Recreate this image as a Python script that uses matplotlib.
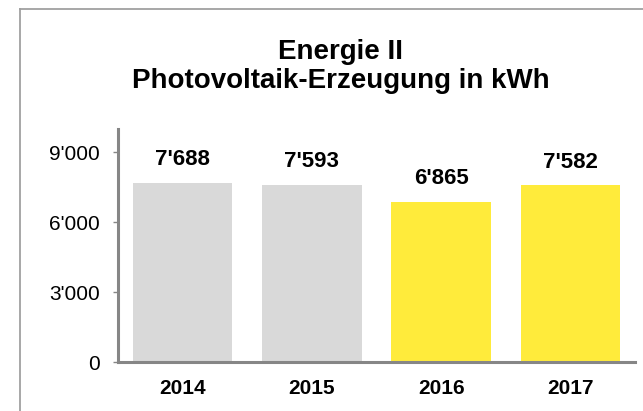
import matplotlib.pyplot as plt
from matplotlib.lines import Line2D

# 데이터
jahre = ["2014", "2015", "2016", "2017"]
erzeugung = [7688, 7593, 6865, 7582]
farben = ["#D9D9D9", "#D9D9D9", "#FFEB3B", "#FFEB3B"]
y_ticks = [0, 3000, 6000, 9000]
y_labels = ["0", "3'000", "6'000", "9'000"]

plt.rcParams['font.family'] = ['Liberation Sans', 'DejaVu Sans']

fig = plt.figure(figsize=(6.43, 4.11), dpi=100)
ax = fig.add_axes([0.1835, 0.1192, 0.8041, 0.5677])

x = range(len(jahre))
ax.bar(x, erzeugung, width=0.77, color=farben)

# Datenbeschriftung
for i, wert in zip(x, erzeugung):
    txt = f"{wert:,}".replace(",", "'")
    ax.annotate(txt, (i, wert), xytext=(0, 12.6), textcoords="offset points",
                ha="center", va="baseline", fontsize=16, fontweight="bold")

ax.set_xlim(-0.5, 3.5)
ax.set_ylim(0, 10000)
ax.set_xticks(list(x))
ax.set_xticklabels(jahre, fontsize=15, fontweight="bold")
ax.set_yticks(y_ticks)
ax.set_yticklabels(y_labels, fontsize=15)

ax.tick_params(axis="x", length=0, pad=12)
ax.tick_params(axis="y", length=3.6, width=1, color="#868686", pad=9.6)

for side in ["top", "right"]:
    ax.spines[side].set_visible(False)
for side in ["left", "bottom"]:
    ax.spines[side].set_color("#868686")
    ax.spines[side].set_linewidth(2.2)

# Titel
fig.text(0.53, 1 - 59 / 411, "Energie II", ha="center", va="baseline",
         fontsize=20, fontweight="bold")
fig.text(0.53, 1 - 88 / 411, "Photovoltaik-Erzeugung in kWh", ha="center", va="baseline",
         fontsize=20, fontweight="bold")

# Rahmen des Diagrammbereichs
fig.add_artist(Line2D([19.5 / 643, 19.5 / 643], [0, 1 - 9.5 / 411], color="#A0A0A0", linewidth=1.3))
fig.add_artist(Line2D([19.5 / 643, 1], [1 - 9.5 / 411, 1 - 9.5 / 411], color="#A0A0A0", linewidth=1.3))

fig.savefig("out.png", dpi=100)
